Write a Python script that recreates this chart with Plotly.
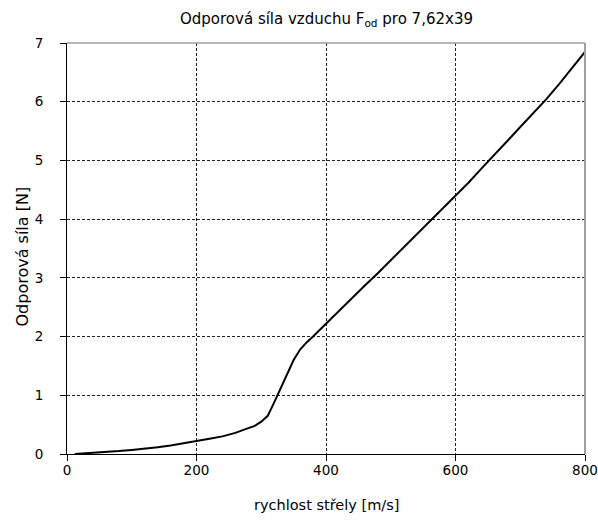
import plotly.graph_objects as go

# rychlost střely [m/s]
speed = [12, 20, 40, 60, 80, 100, 120, 140, 160, 180, 200, 220, 240, 260, 280,
         290, 300, 310, 320, 330, 340, 350, 360, 370, 380, 390, 400, 420, 440,
         460, 480, 500, 520, 540, 560, 580, 600, 620, 640, 660, 680, 700, 720,
         740, 760, 780, 800]
# odporová síla [N]
force = [0.0, 0.005, 0.015, 0.03, 0.05, 0.07, 0.09, 0.115, 0.145, 0.18, 0.22, 0.26,
         0.30, 0.36, 0.44, 0.48, 0.55, 0.65, 0.88, 1.12, 1.35, 1.60, 1.78, 1.90,
         2.00, 2.11, 2.22, 2.44, 2.66, 2.87, 3.08, 3.30, 3.51, 3.73, 3.95, 4.17,
         4.40, 4.62, 4.86, 5.09, 5.33, 5.57, 5.80, 6.04, 6.30, 6.57, 6.85]

x_ticks = [0, 200, 400, 600, 800]
y_ticks = [0, 1, 2, 3, 4, 5, 6, 7]

title_text = "Odporová síla vzduchu F<sub>od</sub> pro 7,62x39"
x_title = "rychlost střely [m/s]"
y_title = "Odporová síla [N]"

FONT = "DejaVu Sans"

fig = go.Figure()
fig.add_trace(go.Scatter(x=speed, y=force, mode="lines",
                         line=dict(color="black", width=2), showlegend=False,
                         hoverinfo="skip", cliponaxis=False))

axis_common = dict(
    showline=True, linecolor="black", linewidth=1,
    ticks="outside", ticklen=6, tickcolor="black", tickwidth=1,
    showgrid=True, gridcolor="#222222", gridwidth=1, griddash="3px,2px",
    zeroline=False, tickfont=dict(family=FONT, size=13.5, color="black"),
    ticklabeloverflow="allow", automargin=False,
)

fig.update_layout(
    width=598, height=522, autosize=False,
    margin=dict(l=67, r=13, t=43, b=68),
    paper_bgcolor="white", plot_bgcolor="white",
    xaxis=dict(range=[0, 800], tickvals=x_ticks, ticklabelstandoff=-2, **axis_common),
    yaxis=dict(range=[0, 7], tickvals=y_ticks, ticklabelstandoff=14, **axis_common),
    shapes=[
        dict(type="line", xref="x domain", yref="y domain", x0=0, x1=1, y0=1, y1=1,
             line=dict(color="#a0a0a0", width=1.5)),
        dict(type="line", xref="x domain", yref="y domain", x0=1, x1=1, y0=0, y1=1,
             line=dict(color="#a0a0a0", width=2)),
    ],
    annotations=[
        dict(text=title_text, xref="paper", yref="paper", x=0.5, y=(454 - 19) / 411,
             xanchor="center", yanchor="middle", showarrow=False,
             font=dict(family=FONT, size=15, color="black")),
        dict(text=x_title, xref="paper", yref="paper", x=0.5, y=(454 - 505) / 411,
             xanchor="center", yanchor="middle", showarrow=False,
             font=dict(family=FONT, size=14.5, color="black")),
        dict(text=y_title, xref="paper", yref="paper", x=(21.5 - 67) / 518,
             y=(454 - 257) / 411, textangle=-90,
             xanchor="center", yanchor="middle", showarrow=False,
             font=dict(family=FONT, size=16, color="black")),
    ],
)

fig.write_html("out.html", config={"displayModeBar": False},
               post_script="document.body.style.margin='0';document.body.style.overflow='hidden';")
